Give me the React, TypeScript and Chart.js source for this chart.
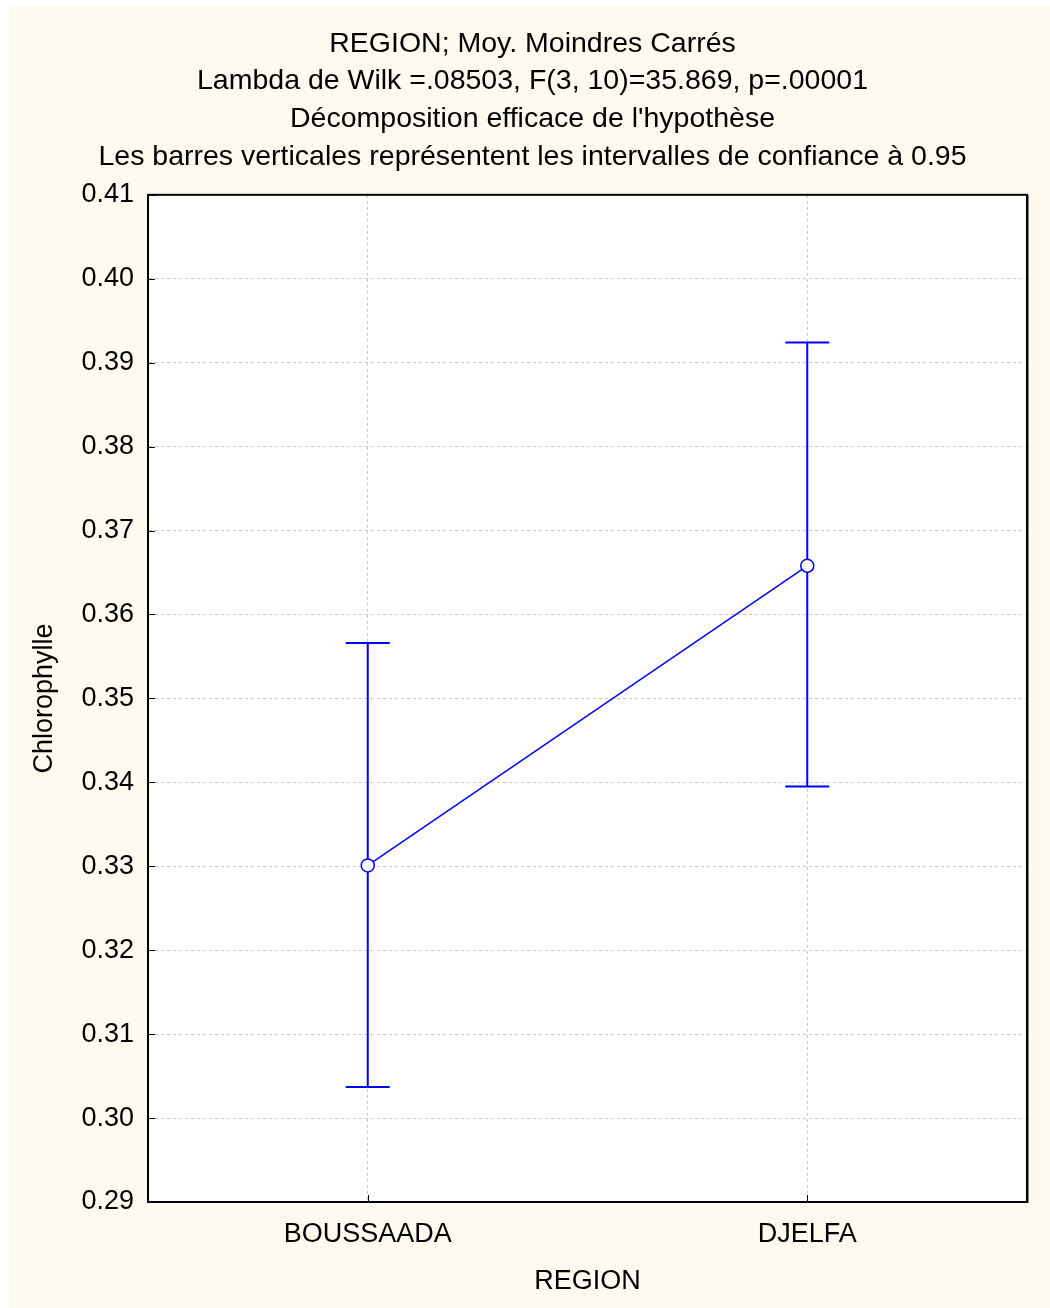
import React, { useEffect, useRef } from "react";
import { Chart, registerables } from "chart.js";

Chart.register(...registerables);

const categories = ["BOUSSAADA", "DJELFA"];
const means = [0.3301, 0.3658];
const ciLow = [0.3037, 0.3395];
const ciHigh = [0.3566, 0.3924];
const titleLines = [
  "REGION; Moy. Moindres Carrés",
  "Lambda de Wilk =.08503, F(3, 10)=35.869, p=.00001",
  "Décomposition efficace de l'hypothèse",
  "Les barres verticales représentent les intervalles de confiance à 0.95",
];
const yTitle = "Chlorophylle";
const xTitle = "REGION";

const FONT = "'Liberation Sans', Arial, Helvetica, sans-serif";
const BLUE = "#0000ff";
const CREAM = "#fffaef";

const backgroundPlugin = {
  id: "bgPlugin",
  beforeDraw(chart: any) {
    const { ctx, chartArea } = chart;
    ctx.save();
    ctx.fillStyle = CREAM;
    ctx.fillRect(0, 0, chart.width, chart.height);
    ctx.fillStyle = "#ffffff";
    ctx.fillRect(chartArea.left, chartArea.top, chartArea.right - chartArea.left, chartArea.bottom - chartArea.top);
    ctx.restore();
  },
};

const errorBarPlugin = {
  id: "errorBars",
  beforeDatasetsDraw(chart: any) {
    const { ctx } = chart;
    const xs = chart.scales.x;
    const ys = chart.scales.y;
    ctx.save();
    ctx.strokeStyle = BLUE;
    ctx.lineWidth = 2;
    for (let i = 0; i < categories.length; i++) {
      const x = xs.getPixelForValue(i);
      const yl = ys.getPixelForValue(ciLow[i]);
      const yh = ys.getPixelForValue(ciHigh[i]);
      ctx.beginPath();
      ctx.moveTo(x, yl);
      ctx.lineTo(x, yh);
      ctx.moveTo(x - 22, yl);
      ctx.lineTo(x + 22, yl);
      ctx.moveTo(x - 22, yh);
      ctx.lineTo(x + 22, yh);
      ctx.stroke();
    }
    ctx.restore();
  },
  afterDraw(chart: any) {
    const { ctx, chartArea } = chart;
    const xs = chart.scales.x;
    const ys = chart.scales.y;
    ctx.save();
    ctx.strokeStyle = "#000000";
    ctx.lineWidth = 1;
    ctx.beginPath();
    ys.ticks.forEach((t: any) => {
      const y = Math.round(ys.getPixelForValue(t.value)) + 0.5;
      ctx.moveTo(chartArea.left, y);
      ctx.lineTo(chartArea.left + 7, y);
    });
    for (let i = 0; i < categories.length; i++) {
      const x = Math.round(xs.getPixelForValue(i)) + 0.5;
      ctx.moveTo(x, chartArea.bottom);
      ctx.lineTo(x, chartArea.bottom - 7);
    }
    ctx.stroke();
    ctx.strokeStyle = "#000000";
    ctx.lineWidth = 2;
    ctx.strokeRect(chartArea.left, chartArea.top, chartArea.right - chartArea.left, chartArea.bottom - chartArea.top);
    ctx.strokeStyle = "#808080";
    ctx.lineWidth = 1;
    ctx.beginPath();
    ctx.moveTo(chartArea.right + 1.5, chartArea.top);
    ctx.lineTo(chartArea.right + 1.5, chartArea.bottom + 1);
    ctx.stroke();
    ctx.restore();
  },
};

export default function App() {
  const ref = useRef<HTMLCanvasElement | null>(null);
  useEffect(() => {
    if (!ref.current) return;
    const chart = new Chart(ref.current, {
      type: "line",
      data: {
        labels: categories,
        datasets: [
          {
            data: means,
            borderColor: BLUE,
            borderWidth: 1.5,
            pointRadius: 6.5,
            pointBackgroundColor: "#ffffff",
            pointBorderColor: BLUE,
            pointBorderWidth: 1.5,
            tension: 0,
          },
        ],
      },
      options: {
        responsive: false,
        animation: false,
        events: [],
        layout: { padding: { left: 6, right: 0, top: 0, bottom: 0 } },
        plugins: {
          legend: { display: false },
          tooltip: { enabled: false },
          title: {
            display: true,
            text: titleLines,
            color: "#000000",
            font: { family: FONT, size: 28.5, weight: "normal", lineHeight: 1.323 },
            padding: { top: 19, bottom: 19 },
          },
        },
        scales: {
          x: {
            type: "category",
            offset: true,
            afterFit(scale: any) {
              scale.height = 106;
            },
            grid: {
              offset: false,
              drawTicks: false,
              color: "#c8c8c8",
              lineWidth: 1,
            },
            border: { display: true, color: "#000000", width: 2, dash: [3, 3] },
            ticks: {
              color: "#000000",
              font: { family: FONT, size: 27 },
              padding: 16,
            },
            title: {
              display: true,
              text: xTitle,
              color: "#000000",
              font: { family: FONT, size: 27 },
              padding: { top: 0, bottom: 10 },
            },
          },
          y: {
            type: "linear",
            position: "left",
            min: 0.29,
            max: 0.41,
            afterFit(scale: any) {
              scale.width = 133;
            },
            grid: {
              drawTicks: false,
              color: "#c8c8c8",
              lineWidth: 1,
            },
            border: { display: true, color: "#000000", width: 2, dash: [3, 3] },
            ticks: {
              stepSize: 0.01,
              color: "#000000",
              font: { family: FONT, size: 27 },
              padding: 14,
              callback: (v: any) => Number(v).toFixed(2),
            },
            title: {
              display: true,
              text: yTitle,
              color: "#000000",
              font: { family: FONT, size: 27 },
              padding: { top: 13, bottom: 0 },
            },
          },
          yRight: {
            type: "linear",
            position: "right",
            min: 0.29,
            max: 0.41,
            afterFit(scale: any) {
              scale.width = 23;
            },
            grid: { display: false, drawOnChartArea: false },
            border: { display: false },
            ticks: { display: false },
          },
        },
      },
      plugins: [backgroundPlugin, errorBarPlugin],
    } as any);
    return () => chart.destroy();
  }, []);
  return (
    <div style={{ position: "absolute", left: 9, top: 6, width: 1041, height: 1302 }}>
      <canvas ref={ref} width={1041} height={1302} style={{ display: "block" }} />
    </div>
  );
}
